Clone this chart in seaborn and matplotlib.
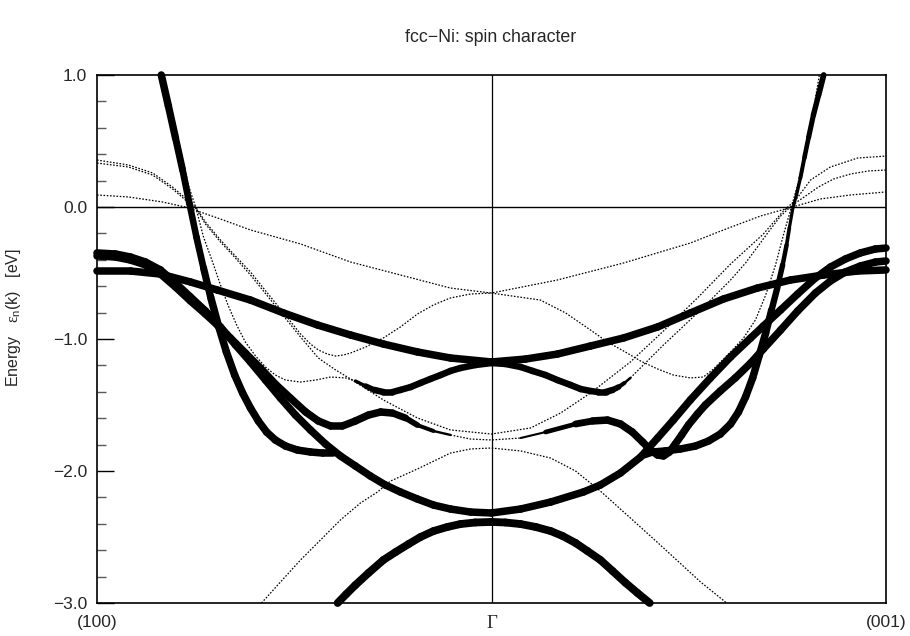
import matplotlib
matplotlib.use("Agg")
import numpy as np
import pandas as pd
import matplotlib.pyplot as plt
import seaborn as sns
from matplotlib.ticker import FixedLocator, MultipleLocator

sns.set_theme(style="white")
plt.rcParams['font.family'] = ['Liberation Sans', 'DejaVu Sans']
plt.rcParams['mathtext.fontset'] = 'custom'
plt.rcParams['mathtext.rm'] = 'Liberation Serif'
plt.rcParams['mathtext.sf'] = 'Liberation Sans'
plt.rcParams['mathtext.it'] = 'Liberation Sans:italic'

# ---------------- data: k along (100)-Gamma-(001), energy in eV, spin-up weight w ----------------
k_gentle = [-1.0, -0.915, -0.839, -0.763, -0.695, -0.611, -0.527, -0.441, -0.357, -0.274, -0.188, -0.104, 0.0,
            0.086, 0.167, 0.251, 0.335, 0.421, 0.504, 0.588, 0.674, 0.758, 0.842, 0.928, 1.0]
E_gentle = [-0.485, -0.485, -0.508, -0.568, -0.629, -0.705, -0.803, -0.894, -0.970, -1.038, -1.098, -1.144, -1.174,
            -1.152, -1.114, -1.053, -0.992, -0.909, -0.803, -0.697, -0.614, -0.553, -0.515, -0.485, -0.477]
w_gentle = [1.0] * 25

k_diag = [-1.0, -0.953, -0.915, -0.877, -0.839, -0.801, -0.763, -0.725, -0.687, -0.649, -0.611, -0.573, -0.535,
          -0.497, -0.459, -0.421, -0.383, -0.345, -0.307, -0.269, -0.231, -0.188, -0.147, -0.104, -0.053, 0.0,
          0.074, 0.150, 0.233, 0.276, 0.327, 0.378, 0.421, 0.461, 0.504, 0.555, 0.606, 0.657, 0.689, 0.733, 0.776,
          0.821, 0.859, 0.897, 0.935, 0.973, 1.0]
E_diag = [-0.348, -0.356, -0.379, -0.417, -0.477, -0.576, -0.682, -0.788, -0.909, -1.045, -1.174, -1.311, -1.447,
          -1.576, -1.689, -1.795, -1.886, -1.962, -2.038, -2.106, -2.159, -2.212, -2.258, -2.288, -2.311, -2.318,
          -2.288, -2.235, -2.159, -2.106, -2.015, -1.894, -1.750, -1.614, -1.462, -1.295, -1.136, -0.992, -0.902,
          -0.780, -0.659, -0.538, -0.455, -0.394, -0.348, -0.318, -0.311]
w_diag = [1.0] * 47

k_wig = [-1.0, -0.953, -0.915, -0.877, -0.839, -0.801, -0.763, -0.725, -0.695, -0.662, -0.624, -0.586, -0.548,
         -0.510, -0.471, -0.439, -0.408, -0.378, -0.345, -0.312, -0.281, -0.251, -0.218, -0.188, -0.147, -0.104,
         -0.053, 0.0,
         0.074, 0.137, 0.213, 0.256, 0.294, 0.327, 0.357, 0.383, 0.403, 0.421, 0.436, 0.451, 0.466, 0.482, 0.499,
         0.522, 0.542, 0.580, 0.618, 0.657, 0.689, 0.733, 0.776, 0.821, 0.859, 0.897, 0.935, 0.973, 1.0]
E_wig = [-0.371, -0.379, -0.402, -0.439, -0.508, -0.606, -0.712, -0.811, -0.894, -0.992, -1.106, -1.220, -1.341,
         -1.447, -1.553, -1.621, -1.659, -1.659, -1.621, -1.576, -1.553, -1.561, -1.598, -1.652, -1.697, -1.727,
         -1.758, -1.765,
         -1.750, -1.705, -1.644, -1.621, -1.614, -1.644, -1.705, -1.780, -1.841, -1.879, -1.886, -1.856, -1.795,
         -1.727, -1.652, -1.568, -1.500, -1.394, -1.295, -1.182, -1.076, -0.932, -0.788, -0.652, -0.561, -0.492,
         -0.447, -0.417, -0.409]
w_wig = [1.0] * 22 + [0.85, 0.6, 0.3, 0.1, 0.0, 0.0] + [0.0, 0.3, 0.8] + [1.0] * 26

k_sp_left = [-0.837, -0.819, -0.801, -0.783, -0.766, -0.748, -0.730, -0.712, -0.692, -0.672, -0.651, -0.631,
             -0.611, -0.591, -0.570, -0.548, -0.522, -0.492, -0.459, -0.428, -0.401]
E_sp_left = [1.0, 0.765, 0.523, 0.280, 0.030, -0.227, -0.462, -0.682, -0.902, -1.098, -1.273, -1.409, -1.523,
             -1.621, -1.705, -1.765, -1.811, -1.841, -1.856, -1.864, -1.864]
w_sp_left = [1.0, 1.0, 0.95, 0.9, 0.85, 0.85, 0.9] + [1.0] * 14

k_sp_right = [0.842, 0.829, 0.816, 0.804, 0.793, 0.783, 0.773, 0.763, 0.755, 0.748, 0.738, 0.725, 0.710, 0.695,
              0.679, 0.662, 0.644, 0.626, 0.606, 0.580, 0.550, 0.517, 0.479, 0.441, 0.408, 0.385]
E_sp_right = [1.0, 0.848, 0.697, 0.530, 0.371, 0.220, 0.091, -0.023, -0.159, -0.288, -0.439, -0.606, -0.780,
              -0.955, -1.121, -1.295, -1.439, -1.553, -1.644, -1.720, -1.773, -1.811, -1.833, -1.848, -1.856, -1.879]
w_sp_right = [0.75, 0.7, 0.65, 0.6, 0.5, 0.4, 0.3, 0.3, 0.35, 0.45, 0.6, 0.75, 0.9] + [1.0] * 13

k_bottom = [-0.390, -0.368, -0.345, -0.312, -0.274, -0.243, -0.210, -0.180, -0.147, -0.112, -0.079, -0.041, 0.0,
            0.035, 0.074, 0.112, 0.150, 0.180, 0.213, 0.243, 0.276, 0.307, 0.340, 0.370, 0.401]
E_bottom = [-3.0, -2.932, -2.864, -2.773, -2.674, -2.614, -2.553, -2.500, -2.455, -2.424, -2.402, -2.390, -2.386,
            -2.390, -2.402, -2.424, -2.455, -2.492, -2.545, -2.606, -2.674, -2.758, -2.848, -2.924, -3.0]
w_bottom = [1.05] * 25

k_dip = [-0.831, -0.801, -0.767, -0.750, -0.730, -0.707, -0.687, -0.667, -0.646, -0.624, -0.598, -0.573, -0.548,
         -0.522, -0.484, -0.446, -0.408, -0.370, -0.345,
         -0.319,
         -0.297, -0.274, -0.251, -0.231, -0.205, -0.180, -0.155, -0.129, -0.104, -0.079, -0.041, 0.0, 0.035, 0.074,
         0.104, 0.137, 0.167, 0.200, 0.226, 0.251, 0.271, 0.289, 0.307,
         0.322, 0.337, 0.352,
         0.390, 0.436, 0.479, 0.522, 0.563, 0.606, 0.644, 0.674, 0.702, 0.733, 0.763, 0.796, 0.829, 0.867, 0.910,
         0.956, 1.0]
E_dip = [1.0, 0.606, 0.152, 0.0, -0.227, -0.417, -0.591, -0.750, -0.894, -1.023, -1.129, -1.212, -1.273, -1.311,
         -1.326, -1.311, -1.288, -1.295, -1.318,
         -1.356,
         -1.386, -1.402, -1.402, -1.386, -1.364, -1.333, -1.303, -1.273, -1.242, -1.220, -1.197, -1.182, -1.189,
         -1.212, -1.242, -1.273, -1.311, -1.348, -1.379, -1.394, -1.402, -1.402, -1.386,
         -1.364, -1.333, -1.295,
         -1.182, -1.045, -0.924, -0.803, -0.682, -0.553, -0.424, -0.303, -0.189, -0.068, 0.015, 0.083, 0.152, 0.212,
         0.250, 0.273, 0.280]
w_dip = [0.0] * 18 + [0.2, 0.5] + [0.85] * 23 + [0.6, 0.35, 0.1] + [0.0] * 17

k_dn_top = [-1.0, -0.920, -0.834, -0.776, -0.738, -0.687, -0.611, -0.484, -0.357, -0.231, -0.104, 0.0, 0.167,
            0.335, 0.504, 0.588, 0.682, 0.763, 0.834, 0.910, 1.0]
E_dn_top = [0.091, 0.076, 0.038, 0.0, -0.038, -0.091, -0.174, -0.280, -0.417, -0.515, -0.614, -0.652, -0.553,
            -0.424, -0.273, -0.174, -0.068, 0.0, 0.061, 0.091, 0.114]
w_dn_top = [0.0] * 21

k_dn_a = [-1.0, -0.920, -0.859, -0.809, -0.776, -0.750, -0.725, -0.687, -0.654, -0.611, -0.568, -0.527, -0.484,
          -0.459, -0.439, -0.416, -0.395, -0.375, -0.357, -0.319, -0.274, -0.231, -0.188, -0.147, -0.104, -0.053,
          0.0,
          0.124, 0.188, 0.251, 0.294, 0.335, 0.378, 0.421, 0.461, 0.504, 0.537, 0.563, 0.606, 0.639, 0.669, 0.695,
          0.720, 0.740, 0.758, 0.776, 0.796, 0.814, 0.831]
E_dn_a = [0.356, 0.318, 0.258, 0.152, 0.068, 0.0, -0.114, -0.250, -0.356, -0.492, -0.652, -0.803, -0.962, -1.038,
          -1.083, -1.114, -1.129, -1.121, -1.106, -1.061, -0.992, -0.909, -0.811, -0.742, -0.689, -0.659, -0.652,
          -0.705, -0.803, -0.932, -1.023, -1.091, -1.167, -1.227, -1.273, -1.295, -1.288, -1.227, -1.098, -0.992,
          -0.856, -0.667, -0.439, -0.212, -0.023, 0.167, 0.432, 0.697, 1.0]
w_dn_a = [0.0] * 49

k_dn_b = [-1.0, -0.920, -0.859, -0.808, -0.776, -0.750, -0.725, -0.687, -0.654, -0.611, -0.568, -0.527, -0.484,
          -0.439, -0.395, -0.357, -0.274, -0.188, -0.104, 0.0, 0.099, 0.175, 0.251, 0.352, 0.436, 0.522, 0.606,
          0.689, 0.740, 0.771, 0.809, 0.859, 0.928, 1.0]
E_dn_b = [0.333, 0.303, 0.242, 0.136, 0.053, -0.008, -0.129, -0.265, -0.371, -0.515, -0.674, -0.826, -0.985,
          -1.144, -1.235, -1.303, -1.462, -1.598, -1.689, -1.720, -1.674, -1.561, -1.409, -1.174, -0.939, -0.689,
          -0.432, -0.205, -0.030, 0.053, 0.205, 0.303, 0.371, 0.386]
w_dn_b = [0.0] * 34

k_dn_low = [-0.583, -0.535, -0.484, -0.441, -0.383, -0.332, -0.289, -0.256, -0.188, -0.104, -0.053, 0.0, 0.074,
            0.150, 0.213, 0.276, 0.352, 0.428, 0.530, 0.596]
E_dn_low = [-3.0, -2.841, -2.674, -2.545, -2.371, -2.242, -2.159, -2.076, -1.985, -1.864, -1.833, -1.826, -1.848,
            -1.902, -2.000, -2.152, -2.356, -2.561, -2.841, -3.0]
w_dn_low = [0.0] * 20

bands = [
    (k_gentle, E_gentle, w_gentle), (k_diag, E_diag, w_diag), (k_wig, E_wig, w_wig),
    (k_sp_left, E_sp_left, w_sp_left), (k_sp_right, E_sp_right, w_sp_right),
    (k_bottom, E_bottom, w_bottom), (k_dip, E_dip, w_dip), (k_dn_top, E_dn_top, w_dn_top),
    (k_dn_a, E_dn_a, w_dn_a), (k_dn_b, E_dn_b, w_dn_b), (k_dn_low, E_dn_low, w_dn_low),
]

ytick_vals = [-3.0, -2.0, -1.0, 0.0, 1.0]
ytick_labels = ["\u22123.0", "\u22122.0", "\u22121.0", "0.0", "1.0"]
xtick_vals = [-1.0, 0.0, 1.0]
xtick_labels = ["(100)", "\u0393", "(001)"]

# ---------------- build segment tables ----------------
thin_rows, thick_rows = [], []
uid = 0
for k, E, w in bands:
    run_open = False
    for i in range(len(k) - 1):
        wm = 0.5 * (w[i] + w[i + 1])
        if wm < 0.15:
            if not run_open:
                uid += 1
                thin_rows.append((uid, k[i], E[i]))
                run_open = True
            thin_rows.append((uid, k[i + 1], E[i + 1]))
        else:
            run_open = False
            uid += 1
            thick_rows.append((uid, k[i], E[i], round(wm, 3)))
            thick_rows.append((uid, k[i + 1], E[i + 1], round(wm, 3)))

thin_df = pd.DataFrame(thin_rows, columns=["seg", "k", "E"])
thick_df = pd.DataFrame(thick_rows, columns=["seg", "k", "E", "w"])

# ---------------- figure ----------------
fig = plt.figure(figsize=(9.10, 6.36), dpi=100)
fig.patch.set_facecolor("white")
ax = fig.add_axes([97 / 910, 1 - 603 / 636, 789 / 910, 528 / 636])
ax.set_facecolor("white")

ax.axhline(0.0, color="black", lw=1.0, zorder=1)
ax.axvline(0.0, color="black", lw=0.9, zorder=1)

sns.lineplot(data=thin_df, x="k", y="E", units="seg", estimator=None, sort=False, color="black",
             lw=0.9, linestyle=(0, (1.3, 1.3)), legend=False, ax=ax, zorder=2, clip_on=False)
sns.lineplot(data=thick_df, x="k", y="E", units="seg", size="w", sizes=(1.5, 7.7), size_norm=(0.15, 1.5),
             estimator=None, sort=False, color="black", legend=False, ax=ax, zorder=3,
             solid_capstyle="round", solid_joinstyle="round", clip_on=False)

ax.set_xlim(-1, 1)
ax.set_ylim(-3, 1)
ax.set_xlabel("")
ax.set_ylabel("")

for side in ["left", "right", "top", "bottom"]:
    ax.spines[side].set_visible(True)
    ax.spines[side].set_color("black")
    ax.spines[side].set_linewidth(1.2)

ax.yaxis.set_major_locator(FixedLocator(ytick_vals))
ax.set_yticklabels(ytick_labels)
ax.yaxis.set_minor_locator(MultipleLocator(0.2))
ax.tick_params(axis="y", which="major", direction="in", length=12, width=1.0, color="black",
               left=True, right=False, labelsize=12.5, pad=7)
ax.tick_params(axis="y", which="minor", direction="in", length=6.5, width=1.0, color="0.35",
               left=True, right=False)
ax.set_xticks(xtick_vals)
ax.set_xticklabels(xtick_labels)
ax.tick_params(axis="x", which="both", length=0, labelsize=12.5, pad=9, bottom=True, top=False)
ax.get_xticklabels()[1].set_fontfamily("Liberation Serif")
ax.get_xticklabels()[1].set_fontsize(13.5)
ax.grid(False)

fig.text(491 / 910, 1 - 38 / 636, "fcc\u2212Ni: spin character", ha="center", va="center", fontsize=12.8)
fig.text(14 / 910, 1 - 318 / 636, "Energy   $\\mathrm{\u03b5}_{\\mathsf{n}}$(k)   [eV]", rotation=90,
         ha="center", va="center", fontsize=11.5)

fig.savefig("out.png", dpi=100, facecolor="white")
